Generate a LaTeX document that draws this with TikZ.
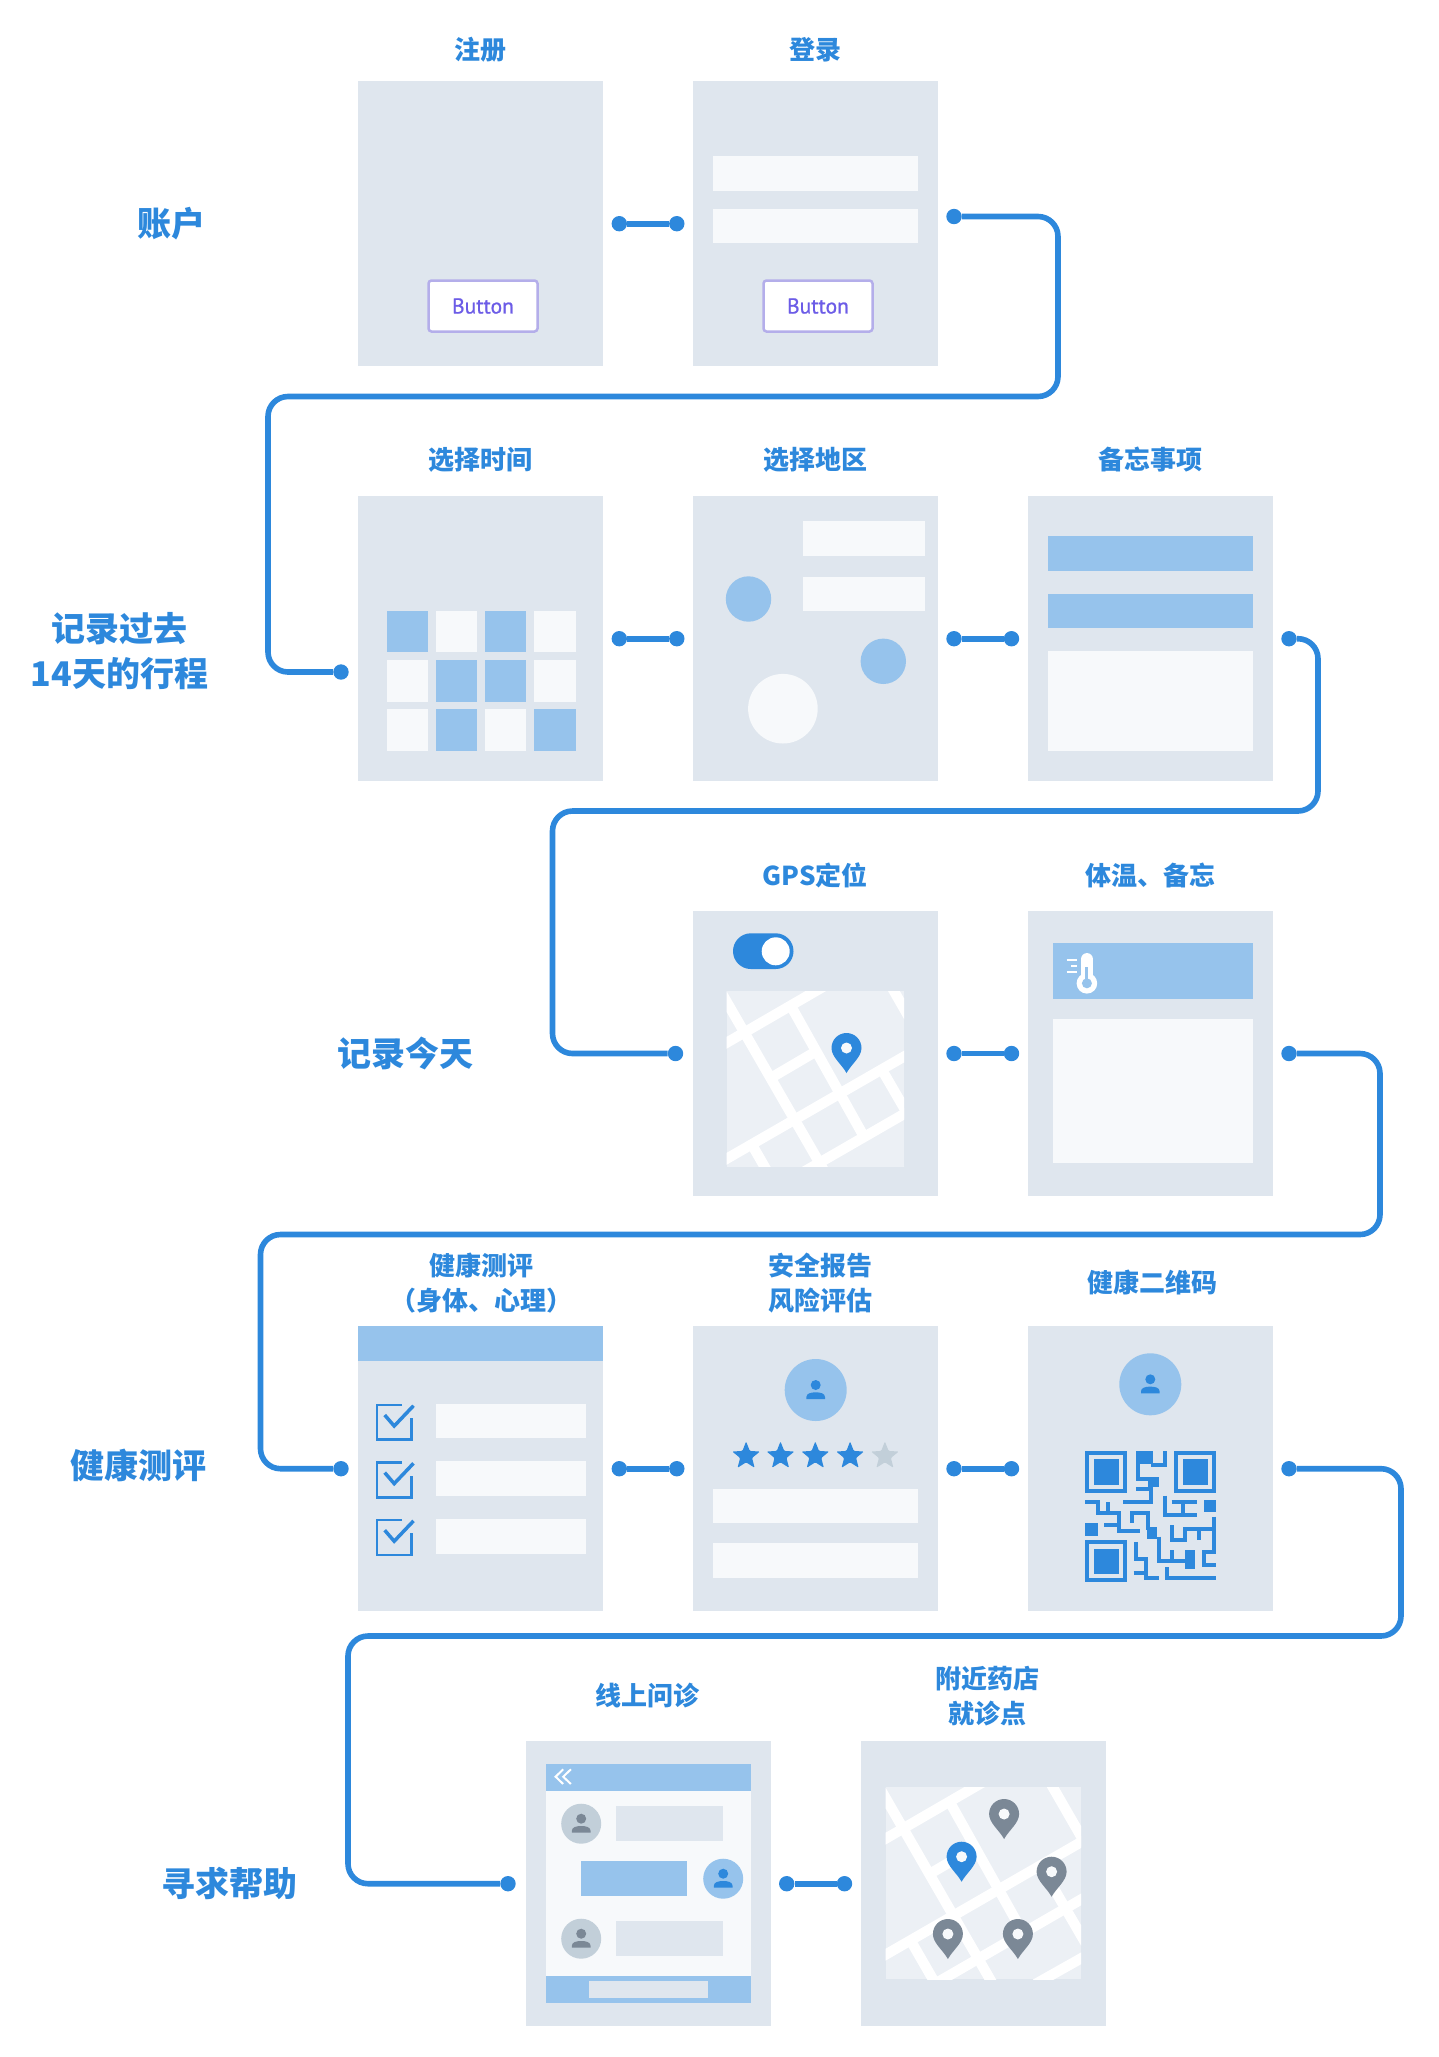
\documentclass[tikz,border=0pt]{standalone}
\usepackage{fontspec}
\setmainfont{Noto Sans CJK SC}
\newfontfamily\btnfont[FakeBold=0.8]{PT Sans}
\usetikzlibrary{shapes.geometric}
\definecolor{panelc}{HTML}{DFE6EE}
\definecolor{fieldc}{HTML}{F7F9FB}
\definecolor{softc}{HTML}{96C3EC}
\definecolor{mainc}{HTML}{2D88DC}
\definecolor{mapc}{HTML}{ECF0F5}
\definecolor{greyc}{HTML}{7B8896}
\definecolor{paleg}{HTML}{C2CFD9}
\definecolor{btnc}{HTML}{6C5CE7}
\definecolor{btnb}{HTML}{B4AEEA}
% map with its roads, clipped to w x h
\newcommand{\roadmap}[4]{
\begin{scope}[shift={(#1,#2)}]
\clip (0,0) rectangle (#3,#4);
\fill[mapc] (0,0) rectangle (#3,#4);
\foreach \a/\b/\c/\d in {-12/-10/109/200, -5/54.6/100/-6.3, -5/170.6/205/49.6, 50/196.4/205/107, 44/87/90/60, 64/14.6/137.5/146, 160.3/-12/200/57, 155/78.4/200/156, 25/153.3/49/195, 150/197/205/166}
    {\draw[white, line width=10.3pt] (\a,\b) -- (\c,\d);}
\end{scope}}
% pin, given by its tip
\newcommand{\mappin}[3]{
\begin{scope}[shift={(#1,#2)}]
\fill[#3] (0,0) .. controls (-5,-9) and (-15,-16) .. (-15,-25) .. controls (-15,-33.3) and (-8.3,-40) .. (0,-40) .. controls (8.3,-40) and (15,-33.3) .. (15,-25) .. controls (15,-16) and (5,-9) .. (0,0) -- cycle;
\fill[fieldc] (0,-25) circle (5.5pt);
\end{scope}}
% round avatar with a person in it
\newcommand{\avatar}[5]{
\begin{scope}[shift={(#1,#2)}]
\fill[#4] (0,0) circle (#3pt);
\fill[#5] (0,-5) circle (5pt);
\fill[#5] (-9.3,9) -- (-9.3,7) .. controls (-9.3,3.5) and (-5,2.3) .. (0,2.3) .. controls (5,2.3) and (9.3,3.5) .. (9.3,7) -- (9.3,9) -- cycle;
\end{scope}}
\begin{document}
\begin{tikzpicture}[x=1pt,y=-1pt]
\tikzstyle{panel} = [rectangle, fill=panelc, minimum width=245pt, minimum height=285pt, inner sep=0pt] % screen
\tikzstyle{mydot} = [circle, fill=mainc, minimum width=15.4pt, inner sep=0pt] % end of a connector
\tikzstyle{link} = [draw=mainc, line width=5.6pt, rounded corners=20pt] % connector
\tikzstyle{field} = [fill=fieldc]
\tikzstyle{soft} = [fill=softc]
\tikzstyle{title} = [text=mainc, font=\fontsize{26pt}{35pt}\selectfont\bfseries, align=center, inner sep=0pt]
\tikzstyle{section} = [text=mainc, font=\fontsize{34pt}{45pt}\selectfont\bfseries, align=center, inner sep=0pt]
\tikzstyle{btn} = [fill=white, draw=btnb, line width=2.5pt, rounded corners=3pt, minimum width=109pt, minimum height=51pt, inner sep=0pt, text=btnc, font=\btnfont\fontsize{21.5pt}{25pt}\selectfont]
\tikzstyle{starmark} = [star, star points=5, star point ratio=2.3, minimum size=29pt, inner sep=0pt, rounded corners=1pt]
\useasboundingbox (0,0) rectangle (1439,2057);

% screens
\node[panel] (reg) at (480.6,223.7) {};
\node[panel] (login) at (815.5,223.7) {};
\node[panel] (time) at (480.6,638.7) {};
\node[panel] (area) at (815.5,638.7) {};
\node[panel] (memo) at (1150.5,638.7) {};
\node[panel] (gps) at (815.5,1053.5) {};
\node[panel] (temp) at (1150.5,1053.5) {};
\node[panel] (check) at (480.6,1468.7) {};
\node[panel] (report) at (815.5,1468.7) {};
\node[panel] (qr) at (1150.5,1468.7) {};
\node[panel] (chat) at (648,1883.5) {};
\node[panel] (near) at (983,1883.5) {};

% titles
\node[title] (treg) at (480,50) {注册};
\node[title] (tlogin) at (815,50) {登录};
\node[title] (ttime) at (480,459.8) {选择时间};
\node[title] (tarea) at (815,459.8) {选择地区};
\node[title] (tmemo) at (1150,459.8) {备忘事项};
\node[title] (tgps) at (815,875) {GPS定位};
\node[title] (ttemp) at (1150.6,875) {体温、备忘};
\node[title] (tcheck) at (481,1282.9) {健康测评\\（身体、心理）};
\node[title] (treport) at (820.5,1282.9) {安全报告\\风险评估};
\node[title] (tqr) at (1152.6,1282) {健康二维码};
\node[title] (tchat) at (647,1696) {线上问诊};
\node[title] (tnear) at (987.6,1696) {附近药店\\就诊点};

% sections
\node[section] (saccount) at (171,224) {账户};
\node[section] (spast) at (119.5,651) {记录过去\\14天的行程};
\node[section] (stoday) at (405.5,1053.6) {记录今天};
\node[section] (shealth) at (138,1465) {健康测评};
\node[section] (shelp) at (229.5,1883) {寻求帮助};

% register, login
\node[btn] (btna) at (483,306) {Button};
\node[btn] (btnb) at (818,306) {Button};
\fill[field] (713,156.3) rectangle (918,191);
\fill[field] (713,208.7) rectangle (918,243.3);

% calendar
\foreach \y/\m in {611/{1,0,1,0}, 660.3/{0,1,1,0}, 709.3/{0,1,0,1}} {
    \foreach \x [count=\i] in {386.7,436,485,534.3} {
        \pgfmathtruncatemacro{\on}{{\m}[\i-1]}
        \ifnum\on=1 \fill[soft] (\x,\y) rectangle +(41.4,41.4); \else \fill[field] (\x,\y) rectangle +(41.4,41.4); \fi
    }
}

% area
\fill[field] (803,521.3) rectangle (924.8,556);
\fill[field] (803,576.7) rectangle (924.8,611);
\fill[soft] (748.5,599) circle (22.7pt);
\fill[soft] (883.3,661.3) circle (22.7pt);
\fill[field] (782.9,708.7) circle (34.8pt);

% memo
\fill[soft] (1048,536.3) rectangle (1253.3,571);
\fill[soft] (1048,593.7) rectangle (1253.3,628.3);
\fill[field] (1048,651.3) rectangle (1253.3,751);

% gps
\fill[mainc, rounded corners=17.8pt] (733,933.3) rectangle (793.5,969);
\fill[white] (775.7,951.3) circle (14pt);
\roadmap{726.7}{991}{177.5}{175.7}
\mappin{846.5}{1073}{mainc}

% temperature
\fill[soft] (1052.9,943.3) rectangle (1253.3,998.7);
\fill[field] (1052.9,1018.7) rectangle (1253.3,1163.3);
\draw[white, line width=12.7pt, line cap=round] (1086.9,959.4) -- (1086.9,983);
\fill[white] (1086.9,983.3) circle (10.3pt);
\draw[softc, line width=3pt] (1086.9,967) -- (1086.9,983);
\fill[softc] (1086.9,983.3) circle (5pt);
\foreach \a/\b in {1066.7/960, 1071/966, 1066.7/972.3}
    {\draw[white, line width=2pt] (\a,\b) -- (1076.6,\b);}

% health check
\fill[soft] (358.1,1326.2) rectangle (603.1,1361.3);
\foreach \y in {0,57.6,115.2} {
    \draw[mainc, line width=2.5pt] (402,1405+\y) -- (377.2,1405+\y) -- (377.2,1439.7+\y) -- (411.6,1439.7+\y) -- (411.6,1418+\y);
    \draw[mainc, line width=3.5pt] (384.7,1415+\y) -- (394.2,1426+\y) -- (413.5,1405.7+\y);
    \fill[field] (435.7,1403.7+\y) rectangle (585.5,1438.3+\y);
}

% report
\avatar{815.7}{1390}{31}{softc}{mainc}
\foreach \x/\c [count=\i] in {746.1/mainc, 780.5/mainc, 815.3/mainc, 850.1/mainc, 884.9/paleg}
    {\node[starmark, fill=\c] (star\i) at (\x,1456) {};}
\fill[field] (712.9,1488.7) rectangle (918,1523.3);
\fill[field] (712.9,1543) rectangle (918,1577.7);

% qr code, in units of a third of a pixel
\avatar{1150.3}{1384.3}{31}{softc}{mainc}
\begin{scope}[shift={(1010,1330)}, x=0.3333pt, y=-0.3333pt]
\foreach \a/\b in {225/362, 492/362, 225/630} {
    \draw[mainc, line width=4.2pt] (\a+6.5,\b+6.5) rectangle (\a+121,\b+121);
    \fill[mainc] (\a+26,\b+26) rectangle (\a+102,\b+102);
}
\foreach \a/\b/\c/\d in {378/362/428/402, 415/441/447/470, 225/579/264/617, 410/592/440/628, 524/661/554/717, 581/509/619/547}
    {\fill[mainc] (\a,\b) rectangle (\c,\d);}
\begin{scope}[draw=mainc, line width=4.2pt]
\draw (422,406) -- (466,406) -- (466,362);
\draw (384,400) -- (384,447) -- (420,447);
\draw (378,478) -- (422,478);
\draw (422,465) -- (422,516) -- (340,516);
\draw (225,516) -- (264,516) -- (264,548) -- (327,548) -- (327,604) -- (390,604);
\draw (295,516) -- (295,548);
\draw (283,585) -- (327,585);
\draw (365,578) -- (365,548) -- (415,548) -- (415,600);
\draw (447,620) -- (447,692) -- (524,692);
\draw (485,661) -- (485,692);
\draw (466,497) -- (466,554) -- (560,554);
\draw (485,516) -- (560,516);
\draw (520,516) -- (520,554);
\draw (485,585) -- (485,629) -- (524,629) -- (524,598) -- (612,598);
\draw (567,598) -- (567,629);
\draw (612,560) -- (612,667) -- (581,667) -- (581,705) -- (619,705);
\draw (378,636) -- (378,686) -- (409,686) -- (409,743) -- (447,743);
\draw (371,730) -- (409,730);
\draw (472,712) -- (472,743) -- (619,743);
\end{scope}
\end{scope}

% chat
\fill[field] (545.6,1791) rectangle (750.8,1976);
\fill[soft] (545.6,1763.7) rectangle (750.8,1791);
\fill[soft] (545.6,1976) rectangle (750.8,2003);
\fill[panelc] (588.5,1981) rectangle (707.9,1998.3);
\draw[white, line width=2pt] (563.2,1769.3) -- (555.6,1776.7) -- (563.2,1784);
\draw[white, line width=2pt] (570.9,1769.3) -- (563.2,1776.7) -- (570.9,1784);
\fill[panelc] (616.4,1806) rectangle (722.8,1841);
\fill[soft] (581.2,1861.3) rectangle (686.9,1896.3);
\fill[panelc] (616.4,1921.3) rectangle (722.8,1956.3);
\avatar{581.2}{1823.7}{20}{paleg}{greyc}
\avatar{723.2}{1878.7}{20}{softc}{mainc}
\avatar{581.2}{1938.7}{20}{paleg}{greyc}

% nearby
\roadmap{885.5}{1787}{195.5}{192}
\mappin{961.6}{1881.7}{mainc}
\foreach \a/\b in {1004.1/1839, 1051.6/1896.7, 947.9/1959, 1017.9/1959}
    {\mappin{\a}{\b}{greyc}}

% short connectors
\foreach \n/\a/\b/\y in {a/619.3/676.8/223.7, b/619.3/676.8/638.7, c/954/1011.5/638.7, d/954/1011.5/1053.5, e/619.3/676.8/1468.7, f/954/1011.5/1468.7, g/786.7/844.5/1883.7} {
    \node[mydot] (l\n) at (\a,\y) {};
    \node[mydot] (r\n) at (\b,\y) {};
    \draw[link] (l\n) -- (r\n);
}

% long connectors
\node[mydot] (outa) at (954,216.5) {};
\node[mydot] (ina) at (341,672) {};
\node[mydot] (outb) at (1289,638.7) {};
\node[mydot] (inb) at (675.5,1053.5) {};
\node[mydot] (outc) at (1289,1053.5) {};
\node[mydot] (inc) at (341,1468.7) {};
\node[mydot] (outd) at (1289,1468.7) {};
\node[mydot] (ind) at (508,1883.7) {};
\draw[link] (outa) -- (1058,216.5) -- (1058,396.5) -- (268,396.5) -- (268,672) -- (ina);
\draw[link] (outb) -- (1318,638.7) -- (1318,811) -- (552.5,811) -- (552.5,1053.5) -- (inb);
\draw[link] (outc) -- (1380,1053.5) -- (1380,1234.5) -- (260.5,1234.5) -- (260.5,1468.7) -- (inc);
\draw[link] (outd) -- (1401,1468.7) -- (1401,1636) -- (348,1636) -- (348,1883.7) -- (ind);
\end{tikzpicture}
\end{document}
